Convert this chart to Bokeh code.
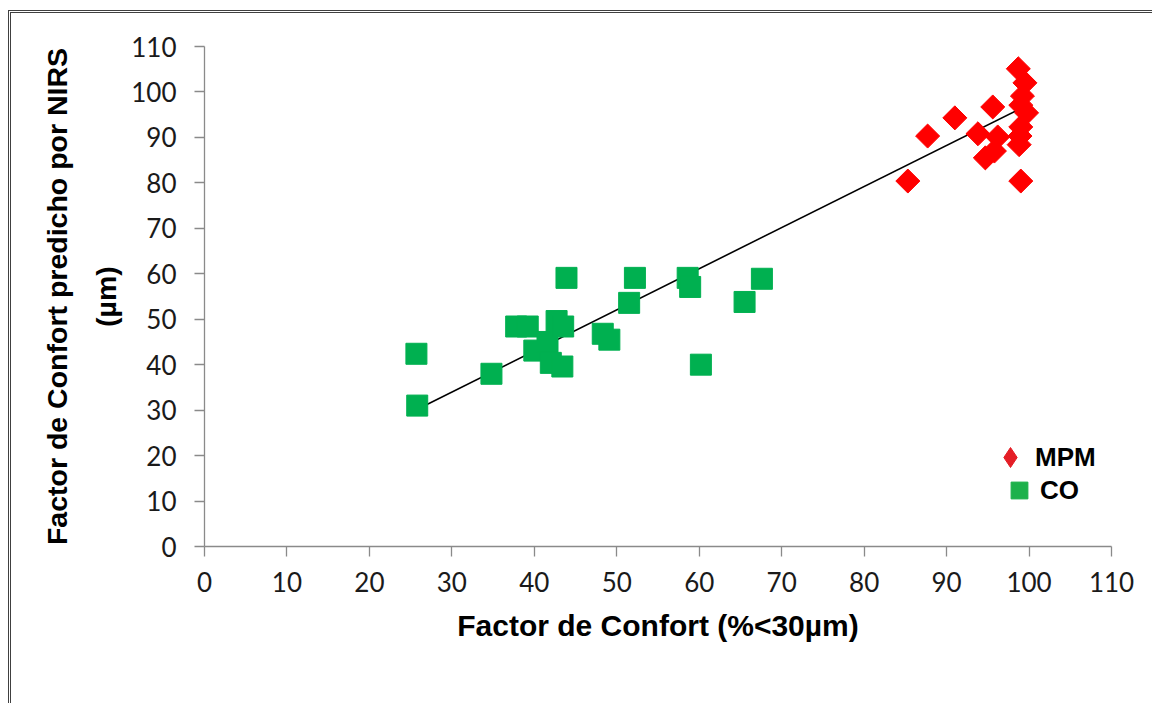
import numpy as np
from bokeh.plotting import figure
from bokeh.models import FixedTicker, Legend, LegendItem, ColumnDataSource
from bokeh.embed import file_html
from bokeh.resources import INLINE

# CO series (green squares)
co_x = [25.7, 25.8, 34.8, 37.8, 39.2, 40.0, 41.6, 42.7, 43.5, 42.0, 43.4, 43.9,
        48.3, 49.1, 51.5, 52.2, 58.6, 58.9, 60.2, 65.5, 67.6]
co_y = [42.4, 31.0, 38.0, 48.4, 48.4, 43.1, 45.0, 49.6, 48.4, 40.4, 39.6, 59.1,
        46.8, 45.5, 53.6, 59.1, 59.1, 57.1, 40.0, 53.8, 58.9]

# MPM series (red diamonds)
mpm_x = [85.3, 87.7, 91.0, 93.8, 94.7, 95.8, 96.2, 95.6, 98.7, 99.5, 99.2, 99.0,
         99.7, 99.0, 98.9, 98.8, 99.0]
mpm_y = [80.4, 90.3, 94.3, 90.8, 85.5, 87.0, 90.1, 96.7, 105.1, 102.0, 99.1, 97.1,
         95.4, 92.3, 90.3, 88.4, 80.4]

# linear trend line end points
trend_x = [25.7, 99.8]
trend_y = [30.1, 97.1]

ticks = list(range(0, 111, 10))
series_names = ["MPM", "CO"]

p = figure(width=1144, height=693, output_backend="svg", toolbar_location=None,
           x_range=(0, 110), y_range=(0, 110),
           min_border_left=193, min_border_right=44, min_border_top=33, min_border_bottom=160)
p.styles = {"margin-left": "8px", "margin-top": "10px",
            "border-left": "3px double #404040", "border-top": "3px double #404040"}

p.outline_line_color = None
p.grid.visible = False
p.background_fill_color = "white"
p.border_fill_color = "white"

for ax in (p.xaxis[0], p.yaxis[0]):
    ax.ticker = FixedTicker(ticks=ticks)
    ax.axis_line_color = "#8a8a8a"
    ax.axis_line_width = 1.3
    ax.major_tick_line_color = "#8a8a8a"
    ax.major_tick_line_width = 1.3
    ax.major_tick_out = 10
    ax.major_tick_in = 0
    ax.minor_tick_line_color = None
    ax.major_label_text_font = "Lato"
    ax.major_label_text_font_size = "26px"
    ax.major_label_text_color = "#1a1a1a"
    ax.axis_label_text_font = "Liberation Sans"
    ax.axis_label_text_font_style = "bold"
    ax.axis_label_text_color = "black"

p.xaxis.major_label_standoff = 15
p.yaxis.major_label_standoff = 18
p.xaxis.axis_label = "Factor de Confort (%<30µm)"
p.xaxis.axis_label_text_font_size = "30px"
p.xaxis.axis_label_standoff = 14
p.yaxis.axis_label = "Factor de Confort predicho por NIRS\n(µm)"
p.yaxis.axis_label_text_font_size = "28.5px"
p.yaxis.axis_label_standoff = 6
p.yaxis.axis_label_text_line_height = 1.55

p.line(trend_x, trend_y, line_color="black", line_width=1.6)

p.scatter(co_x, co_y, marker="square", size=21, fill_color="#00B050", line_color="#00B050")
p.scatter(mpm_x, mpm_y, marker="square", angle=np.pi / 4, size=17,
          fill_color="#FF0000", line_color="#FF0000")

# legend proxies (NaN positions: nothing drawn inside the plot)
proxy = ColumnDataSource(data=dict(x=[np.nan], y=[np.nan]))
lg_mpm = p.scatter("x", "y", source=proxy, marker="diamond",
                   fill_color="#E41E26", line_color="#E41E26")
lg_co = p.scatter("x", "y", source=proxy, marker="square",
                  fill_color="#1DB14B", line_color="#1DB14B")

common = dict(padding=0, margin=0, spacing=0, border_line_color=None, background_fill_alpha=0,
              label_text_font="Liberation Sans", label_text_font_style="bold",
              label_text_font_size="26px", label_text_color="black")

legend_mpm = Legend(items=[LegendItem(label=series_names[0], renderers=[lg_mpm])],
                    location=(781, 64), glyph_width=50, glyph_height=50, label_height=50,
                    label_standoff=-2, **common)
legend_co = Legend(items=[LegendItem(label=series_names[1], renderers=[lg_co])],
                   location=(794, 35), glyph_width=42, glyph_height=42, label_height=42,
                   label_standoff=-7, **common)
p.add_layout(legend_mpm)
p.add_layout(legend_co)

open("out.html", "w").write(file_html(p, INLINE))
